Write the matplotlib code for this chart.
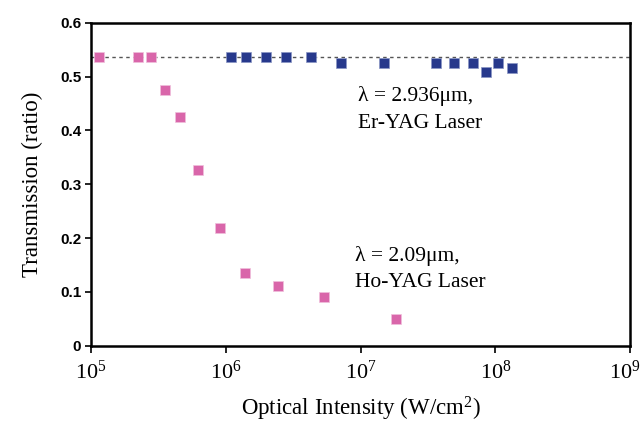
import numpy as np
import matplotlib
matplotlib.use('Agg')
import matplotlib.pyplot as plt
from matplotlib.ticker import FixedLocator, FuncFormatter
from matplotlib.transforms import ScaledTranslation

# data
ho_intensity = [1.15e5, 2.24e5, 2.77e5, 3.52e5, 4.55e5, 6.25e5, 9.0e5,
                1.40e6, 2.44e6, 5.32e6, 1.82e7]
ho_trans = [0.537, 0.537, 0.537, 0.475, 0.425, 0.327, 0.218,
            0.135, 0.110, 0.091, 0.049]

er_intensity = [1.10e6, 1.41e6, 1.98e6, 2.78e6, 4.31e6, 7.11e6, 1.50e7,
                3.63e7, 4.91e7, 6.83e7, 8.48e7, 1.04e8, 1.33e8]
er_trans = [0.537, 0.537, 0.537, 0.537, 0.537, 0.526, 0.526,
            0.526, 0.526, 0.526, 0.508, 0.526, 0.515]

ref_level = 0.537
x_ticks = [1e5, 1e6, 1e7, 1e8, 1e9]
y_ticks = [0, 0.1, 0.2, 0.3, 0.4, 0.5, 0.6]

serif = 'Liberation Serif'
sans = 'Liberation Sans'

fig = plt.figure(figsize=(6.43, 4.25), dpi=100)
ax = fig.add_axes([0.1415, 0.1866, 0.8385, 0.76])

ax.axhline(ref_level, color='#555555', linestyle=(0, (2.5, 2.5)), linewidth=1.0, zorder=1)
ax.plot(ho_intensity, ho_trans, 's', color='#d966aa', markersize=6.5,
        markeredgecolor='#f0c0dc', markeredgewidth=0.5, zorder=3)
ax.plot(er_intensity, er_trans, 's', color='#27398c', markersize=6.5,
        markeredgecolor='#8a96c4', markeredgewidth=0.5, zorder=3)

ax.set_xscale('log')
ax.set_xlim(1e5, 1e9)
ax.set_ylim(0, 0.6)

ax.xaxis.set_major_locator(FixedLocator(x_ticks))
ax.xaxis.set_minor_locator(FixedLocator([]))
ax.xaxis.set_major_formatter(FuncFormatter(lambda v, p: r'$\mathregular{10^{%d}}$' % round(np.log10(v))))
ax.set_yticks(y_ticks)
ax.yaxis.set_major_formatter(FuncFormatter(lambda v, p: '0' if v == 0 else '%.1f' % v))

for lab in ax.get_xticklabels():
    lab.set_fontfamily(serif)
    lab.set_fontsize(16)
for lab in ax.get_yticklabels():
    lab.set_fontfamily(sans)
    lab.set_fontweight('bold')
    lab.set_fontsize(11)

ax.tick_params(axis='x', direction='out', length=5, width=1.2, pad=6)
ax.tick_params(axis='y', direction='out', length=4, width=1.2, pad=3)
for s in ax.spines.values():
    s.set_linewidth(1.8)

# the 10^9 label sits right at the figure edge, nudge it in a bit
last = ax.get_xticklabels()[-1]
last.set_transform(last.get_transform() + ScaledTranslation(-4 / 72, 0, fig.dpi_scale_trans))

ax.set_xlabel(r'Optical Intensity (W/cm$\mathregular{^2}$)', fontfamily=serif, fontsize=16.5, labelpad=8)
ax.set_ylabel('Transmission (ratio)', fontfamily=serif, fontsize=16.5, labelpad=12)

ax.text(9.5e6, 0.482, 'λ = 2.936μm,\nEr-YAG Laser', fontfamily=serif, fontsize=15.5,
        va='top', ha='left', linespacing=1.55)
ax.text(9.1e6, 0.186, 'λ = 2.09μm,\nHo-YAG Laser', fontfamily=serif, fontsize=15.5,
        va='top', ha='left', linespacing=1.55)

fig.savefig('out.png', dpi=100)
